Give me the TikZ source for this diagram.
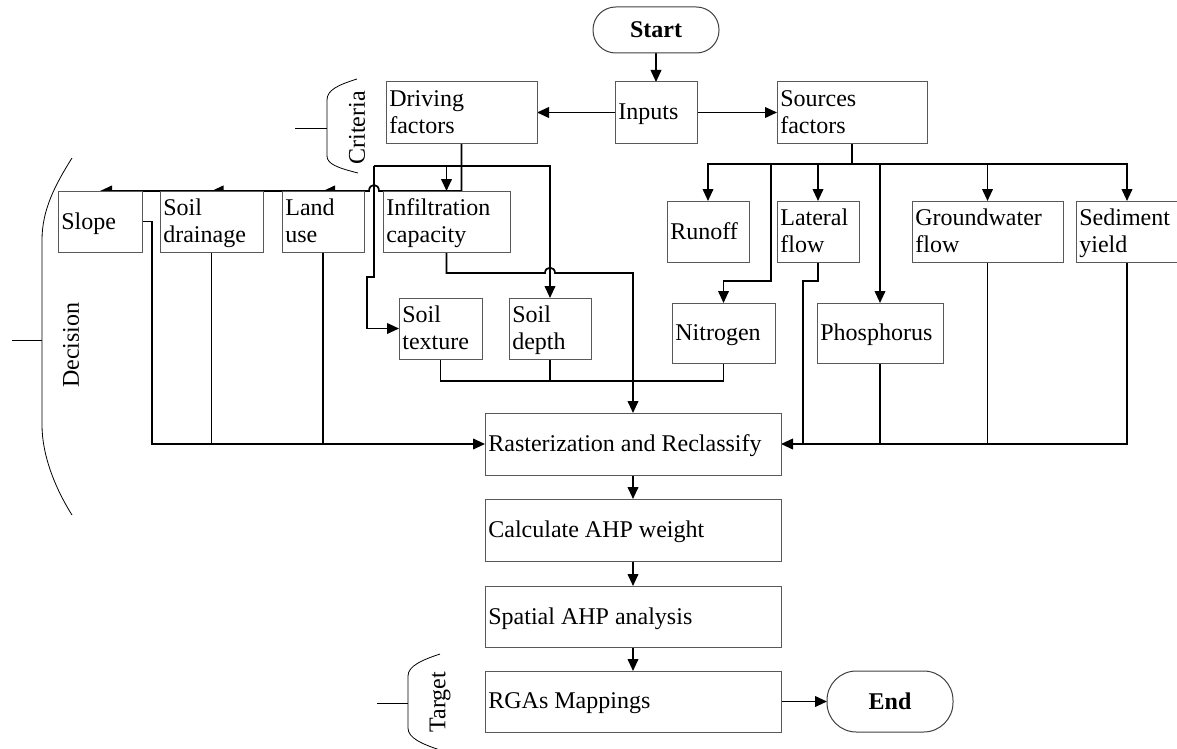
\documentclass[tikz,border=0pt]{standalone}
\usepackage{fontspec}
\setmainfont{Liberation Serif}
\usetikzlibrary{arrows.meta,calc}
\pgfdeclarelayer{bg}
\pgfsetlayers{bg,main}
\newcommand\flowbox[6]{%
  \node[bx, minimum width={(#4-#2)*0.75pt}, minimum height={(#5-#3)*0.75pt}] (#1) at ({(#2+#4)/2},{(#3+#5)/2}) {};
  \node[tx] (#1-t) at ([xshift=2.3pt]#1.west) {#6};}
\begin{document}
\begin{tikzpicture}[x=0.75pt,y=-0.75pt,
  bx/.style={draw=black!65, line width=0.75pt, fill=white, inner sep=0pt, outer sep=0pt, rectangle},
  pill/.style={draw=black!75, line width=0.75pt, fill=white, inner sep=0pt, outer sep=0pt, font=\fontsize{18}{20.25}\selectfont\bfseries},
  tx/.style={anchor=west, align=left, inner sep=0pt, font=\fontsize{18}{20.25}\selectfont, text depth=1pt},
  lbl/.style={inner sep=0pt, rotate=90, font=\fontsize{18}{20.25}\selectfont},
  conn/.style={line width=1.3pt, black},
  arr/.style={-{Triangle[length=9pt,width=8pt]}},
  brk/.style={line width=0.6pt, black},
]
\useasboundingbox (0,0) rectangle (1177,749);

% terminals
\node[pill, rounded corners=17pt, minimum width=126*0.75pt, minimum height=46*0.75pt] (start) at (656,30) {Start};
\node[pill, rounded corners=22pt, minimum width=126*0.75pt, minimum height=61*0.75pt] (endn) at (890,701.5) {End};

% boxes
\flowbox{inp}{615}{82}{697}{143}{Inputs}
\flowbox{drv}{386}{82}{537}{143}{Driving\\factors}
\flowbox{src}{777}{82}{927}{143}{Sources\\factors}

\flowbox{slope}{58}{191}{142}{252}{Slope}
\flowbox{sdr}{160}{191}{263}{252}{Soil\\drainage}
\flowbox{land}{282}{191}{364}{252}{Land\\use}
\flowbox{inf}{383}{191}{510}{252}{Infiltration\\capacity}

\flowbox{stx}{399}{298}{482}{359}{Soil\\texture}
\flowbox{sdp}{509}{298}{591}{359}{Soil\\depth}

\flowbox{run}{667}{201}{749}{262}{Runoff}
\flowbox{lat}{777}{201}{859}{262}{Lateral\\flow}
\flowbox{gw}{912}{201}{1063}{262}{Groundwater\\flow}
\flowbox{sed}{1076}{201}{1178}{262}{Sediment\\yield}
\flowbox{nit}{672}{303}{775}{363}{Nitrogen}
\flowbox{pho}{817}{303}{943}{363}{Phosphorus}

\flowbox{ras}{485}{413}{781}{475}{Rasterization and Reclassify}
\flowbox{ahp}{485}{499}{781}{561}{Calculate AHP weight}
\flowbox{spa}{485}{586}{781}{647}{Spatial AHP analysis}
\flowbox{rga}{485}{671}{781}{732}{RGAs Mappings}

% side brackets and labels
\draw[brk] (357,79) .. controls (338,85) and (327,90) .. (327,100) -- (327,156) .. controls (327,164) and (338,168) .. (358,173);
\draw[brk] (295,128) -- (327,128);
\node[lbl] (crit) at (357,128) {Criteria};

\draw[brk] (72,158) .. controls (55,185) and (42,210) .. (42,240) -- (42,425) .. controls (42,455) and (55,488) .. (72,515);
\draw[brk] (12,340) -- (42,340);
\node[lbl] (dec) at (71,345) {Decision};

\draw[brk] (440,654) .. controls (422,660) and (408,666) .. (408,676) -- (408,728) .. controls (408,738) and (422,744) .. (440,750);
\draw[brk] (377,703) -- (408,703);
\node[lbl] (tgt) at (440,702) {Target};

\begin{pgfonlayer}{bg}
% top
\draw[conn,arr] (start) -- (inp);
\draw[conn,arr] (inp.west) -- (drv.east);
\draw[conn,arr] (inp.east) -- (src.west);

% driving factors tree
\coordinate (bus) at ($(drv.south)+(0,23)$);
\coordinate (bl) at (374,166);
\draw[conn,arr] (drv.south) -- (drv.south |- inf.north) -- (379,191) .. controls (379,183) and (369,183) .. (369,191) -- (slope.north);
\draw[conn,arr] ($(sdr.north)+(14,0)$) -- (sdr.north);
\draw[conn,arr] ($(land.north)+(14,0)$) -- (land.north);
\draw[conn,arr] (bl) -| (sdp.north);
\draw[conn,arr] (bus -| inf.north) -- (inf.north);
\draw[conn,arr] (bl) -- ++(0,111) -- ++(-7,0) |- (stx.west);
\draw[conn,arr] (inf.south) -- ++(0,21) -- (545,273) .. controls (545,266) and (555,266) .. (555,273) -| (ras.north);
\draw[conn] (stx.south) -- ++(0,22) -| (nit.south);
\draw[conn] (sdp.south) -- (sdp.south |- 0,381);

% left inputs to rasterization
\draw[conn,arr] (slope.east) -- ++(10,0) |- (ras.west);
\draw[conn] (sdr.south) -- (sdr.south |- ras.west);
\draw[conn] (land.south) -- (land.south |- ras.west);

% sources tree
\coordinate (rb) at ($(src.south)+(0,21)$);
\draw[conn] (src.south) -- (rb);
\draw[conn,arr] (rb) -| (run.north);
\draw[conn,arr] (rb) -| (lat.north);
\draw[conn,arr] (rb) -| (pho.north);
\draw[conn,arr] (rb) -| (gw.north);
\draw[conn,arr] (rb) -| (sed.north);
\draw[conn,arr] (rb) -| ++(-81,117) -| (nit.north);

% right inputs to rasterization
\draw[conn,arr] (sed.south) |- (ras.east);
\draw[conn] (gw.south) -- (gw.south |- ras.east);
\draw[conn] (pho.south) -- (pho.south |- ras.east);
\draw[conn] (lat.south) -- ++(0,19) -| ($(ras.east)+(22,0)$);

% main column
\draw[conn,arr] (ras) -- (ahp);
\draw[conn,arr] (ahp) -- (spa);
\draw[conn,arr] (spa) -- (rga);
\draw[conn,arr] (rga) -- (endn);
\end{pgfonlayer}
\end{tikzpicture}
\end{document}
